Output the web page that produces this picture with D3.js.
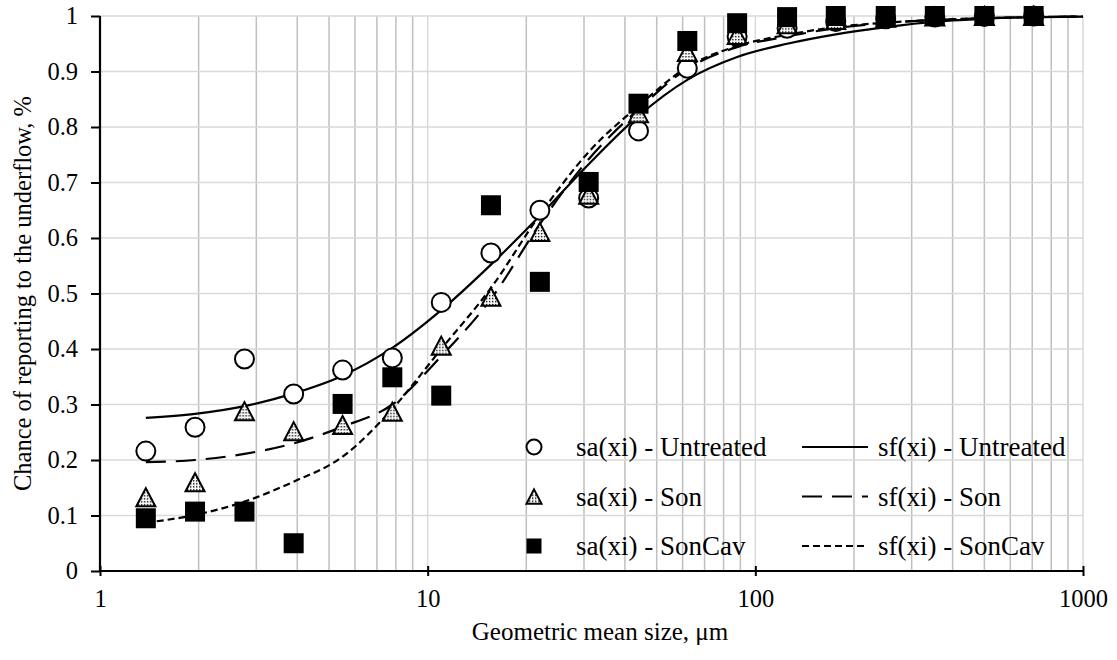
<!DOCTYPE html>
<html>
<head>
<meta charset="utf-8">
<script src="https://cdn.jsdelivr.net/npm/d3@7"></script>
<style>
  body { margin: 0; background: #fff; }
  text { font-family: "Liberation Serif", "Times New Roman", serif; fill: #000; }
</style>
</head>
<body>
<div id="chart"></div>
<script>
// geometric mean sizes (um) of the size classes
var sizes = [1.38, 1.95, 2.76, 3.9, 5.5, 7.8, 11, 15.6, 22, 31, 44, 62, 88, 125, 176, 250, 353, 500, 707];
// sizes at which the fitted curves are drawn
var fitSizes = [1.38, 1.95, 2.76, 3.9, 5.5, 7.8, 11, 15.6, 22, 31, 44, 62, 88, 125, 176, 250, 353, 500, 707, 1000];

// measured partition values sa(xi)
var saUntreated = [0.216, 0.259, 0.382, 0.319, 0.362, 0.384, 0.484, 0.573, 0.650, 0.672, 0.793, 0.906, 0.963, 0.978, 0.990, 0.995, 0.998, 0.999, 1.0];
var saSon       = [0.133, 0.160, 0.288, 0.252, 0.263, 0.287, 0.406, 0.494, 0.611, 0.678, 0.825, 0.935, 0.966, 0.985, 0.993, 0.997, 0.999, 1.0, 1.0];
var saSonCav    = [0.095, 0.107, 0.107, 0.050, 0.301, 0.349, 0.316, 0.659, 0.521, 0.701, 0.842, 0.955, 0.987, 0.998, 1.0, 1.0, 1.0, 1.0, 1.0];

// fitted partition curves sf(xi)
var sfUntreated = [0.276, 0.283, 0.297, 0.320, 0.352, 0.402, 0.470, 0.552, 0.640, 0.733, 0.820, 0.885, 0.926, 0.950, 0.967, 0.980, 0.990, 0.995, 0.998, 0.999];
var sfSon       = [0.196, 0.200, 0.211, 0.230, 0.260, 0.300, 0.387, 0.490, 0.625, 0.742, 0.832, 0.905, 0.944, 0.963, 0.978, 0.987, 0.993, 0.996, 0.998, 0.999];
var sfSonCav    = [0.087, 0.101, 0.125, 0.161, 0.206, 0.292, 0.400, 0.510, 0.642, 0.755, 0.838, 0.908, 0.946, 0.966, 0.980, 0.988, 0.993, 0.996, 0.998, 0.999];

var yTicks = [0, 0.1, 0.2, 0.3, 0.4, 0.5, 0.6, 0.7, 0.8, 0.9, 1];
var xTicks = [1, 10, 100, 1000];

var W = 1117, H = 660;
var margin = {top: 16, right: 34, bottom: 89, left: 100},
    width = W - margin.left - margin.right,
    height = H - margin.top - margin.bottom;

var svg = d3.select("#chart")
  .append("svg")
    .attr("width", W)
    .attr("height", H);

// stippled fill for the triangle markers
var defs = svg.append("defs");
var pat = defs.append("pattern")
    .attr("id", "dots")
    .attr("patternUnits", "userSpaceOnUse")
    .attr("width", 3)
    .attr("height", 3);
pat.append("rect").attr("width", 3).attr("height", 3).attr("fill", "#fff");
pat.append("rect").attr("x", 1).attr("y", 1).attr("width", 1.4).attr("height", 1.4).attr("fill", "#000");

var g = svg.append("g")
    .attr("transform", "translate(" + margin.left + "," + margin.top + ")");

var x = d3.scaleLog().domain([1, 1000]).range([0, width]);
var y = d3.scaleLinear().domain([0, 1]).range([height, 0]);

// minor vertical gridlines
var minor = [];
[1, 10, 100].forEach(function(dec) {
  for (var k = 2; k <= 9; k++) minor.push(dec * k);
});
g.selectAll(".vminor")
  .data(minor)
  .enter().append("line")
    .attr("x1", d => x(d)).attr("x2", d => x(d))
    .attr("y1", 0).attr("y2", height)
    .attr("stroke", "#bfbfbf")
    .attr("stroke-width", 1.5);
g.selectAll(".vmajor")
  .data([10, 100, 1000])
  .enter().append("line")
    .attr("x1", d => x(d)).attr("x2", d => x(d))
    .attr("y1", 0).attr("y2", height)
    .attr("stroke", "#d9d9d9")
    .attr("stroke-width", 1.5);
// horizontal gridlines
g.selectAll(".hgrid")
  .data(yTicks.slice(1))
  .enter().append("line")
    .attr("x1", 0).attr("x2", width)
    .attr("y1", d => y(d)).attr("y2", d => y(d))
    .attr("stroke", "#d9d9d9")
    .attr("stroke-width", 1.5);

// fitted curves
var curves = [
  {vals: sfUntreated, dash: null},
  {vals: sfSon, dash: "20,10"},
  {vals: sfSonCav, dash: "7,4"}
];
var line = d3.line()
    .x(d => x(d[0]))
    .y(d => y(d[1]))
    .curve(d3.curveMonotoneX);
curves.forEach(function(c) {
  g.append("path")
    .datum(fitSizes.map((s, i) => [s, c.vals[i]]))
    .attr("d", line)
    .attr("fill", "none")
    .attr("stroke", "#000")
    .attr("stroke-width", 2.2)
    .attr("stroke-dasharray", c.dash);
});

// markers
function drawMarker(sel, type, size) {
  if (type === "circle") {
    sel.append("circle").attr("r", size / 2)
      .attr("fill", "#fff").attr("stroke", "#000").attr("stroke-width", 2);
  } else if (type === "triangle") {
    var h = size * 0.95, w = size;
    sel.append("path")
      .attr("d", "M0," + (-h / 2) + "L" + (w / 2) + "," + (h / 2) + "L" + (-w / 2) + "," + (h / 2) + "Z")
      .attr("fill", "url(#dots)").attr("stroke", "#000").attr("stroke-width", 2)
      .attr("stroke-linejoin", "miter");
  } else {
    sel.append("rect").attr("x", -size / 2).attr("y", -size / 2)
      .attr("width", size).attr("height", size)
      .attr("fill", "#000");
  }
}

var series = [
  {vals: saUntreated, type: "circle"},
  {vals: saSon, type: "triangle"},
  {vals: saSonCav, type: "square"}
];
series.forEach(function(s) {
  sizes.forEach(function(sz, i) {
    var m = g.append("g")
      .attr("transform", "translate(" + x(sz) + "," + y(s.vals[i]) + ")");
    drawMarker(m, s.type, s.type === "square" ? 20 : 19);
  });
});

// axes
var yAxis = g.append("g")
    .call(d3.axisLeft(y).tickValues(yTicks).tickSize(9).tickPadding(13)
      .tickFormat(d => d === 0 || d === 1 ? String(d) : d.toFixed(1)));
yAxis.select(".domain").attr("stroke-width", 2.2).attr("d", "M0," + height + "V0");
yAxis.selectAll(".tick line").attr("stroke-width", 2);
yAxis.selectAll("text").attr("font-size", 24.5).attr("font-family", "Liberation Serif");

var xAxis = g.append("g")
    .attr("transform", "translate(0," + height + ")")
    .call(d3.axisBottom(x).tickValues(xTicks).tickSize(5).tickPadding(14)
      .tickFormat(d3.format("d")));
xAxis.select(".domain").attr("stroke-width", 2.2).attr("d", "M0,0H" + width);
xAxis.selectAll(".tick line").attr("y1", -5).attr("stroke-width", 2);
xAxis.selectAll("text").attr("font-size", 24.5).attr("font-family", "Liberation Serif");

// axis titles
svg.append("text")
    .attr("x", 600)
    .attr("y", 640)
    .attr("text-anchor", "middle")
    .attr("font-size", 25)
    .text("Geometric mean size, μm");
svg.append("text")
    .attr("transform", "translate(31," + (margin.top + height / 2) + ") rotate(-90)")
    .attr("text-anchor", "middle")
    .attr("font-size", 24.5)
    .text("Chance of reporting to the underflow, %");

// legend
var legendRows = [
  {type: "circle", dash: null, label: "Untreated"},
  {type: "triangle", dash: "20,10", label: "Son"},
  {type: "square", dash: "7,4", label: "SonCav"}
];
var lg = svg.append("g");
legendRows.forEach(function(r, i) {
  var cy = 447 + i * 49.5;
  var m = lg.append("g").attr("transform", "translate(534," + cy + ")");
  drawMarker(m, r.type, 15);
  lg.append("text").attr("x", 576).attr("y", cy + 9).attr("font-size", 27)
    .text("sa(xi) - " + r.label);
  lg.append("line").attr("x1", 802).attr("x2", 868).attr("y1", cy).attr("y2", cy)
    .attr("stroke", "#000").attr("stroke-width", 2.2).attr("stroke-dasharray", r.dash);
  lg.append("text").attr("x", 878).attr("y", cy + 9).attr("font-size", 27)
    .text("sf(xi) - " + r.label);
});
</script>
</body>
</html>
